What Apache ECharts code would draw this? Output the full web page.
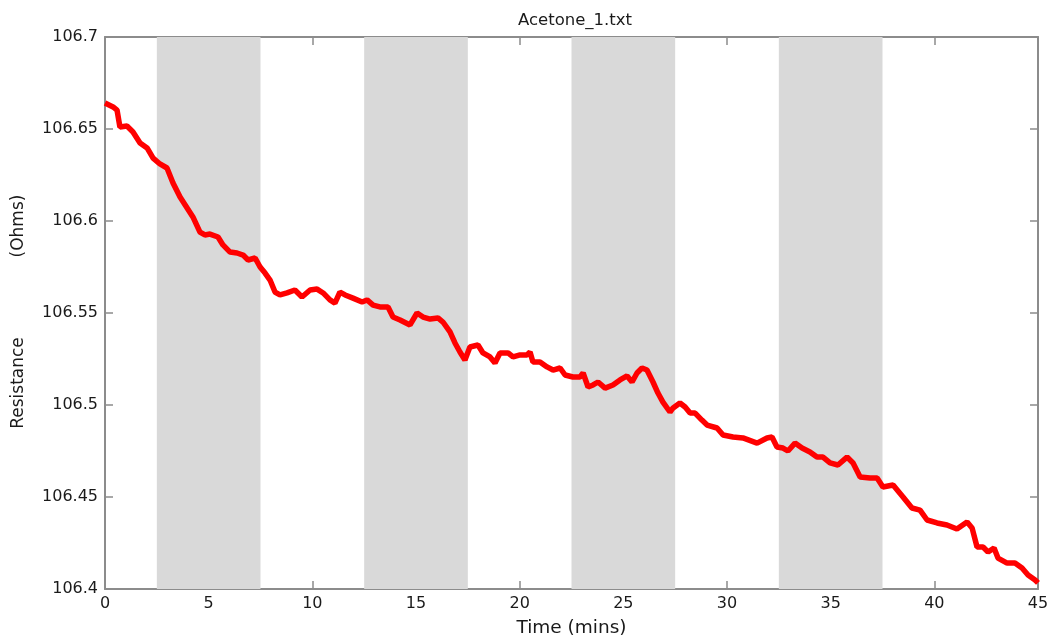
<!DOCTYPE html>
<html>
<head>
<meta charset="utf-8">
<title>Acetone_1.txt</title>
<script src="https://cdn.jsdelivr.net/npm/echarts@6/dist/echarts.min.js"></script>
<style>
  html, body { margin: 0; padding: 0; background: #fff; }
  #chart { width: 1051px; height: 637px; }
</style>
</head>
<body>
<div id="chart"></div>
<script>
// time (mins) and resistance (Ohms)
var times = [0, 0.39, 0.58, 0.72, 1.06, 1.35, 1.69, 2.03, 2.32, 2.65, 2.99, 3.28, 3.62, 3.96, 4.24,
  4.58, 4.82, 5.06, 5.45, 5.69, 6.03, 6.37, 6.66, 6.9, 7.24, 7.48, 7.72, 7.96, 8.2, 8.44,
  8.78, 9.16, 9.5, 9.89, 10.23, 10.52, 10.85, 11.09, 11.33, 11.58, 11.96, 12.4, 12.64, 12.93, 13.26,
  13.65, 13.89, 14.23, 14.71, 15.05, 15.34, 15.68, 16.06, 16.3, 16.64, 16.88, 17.12, 17.36, 17.6, 17.99,
  18.23, 18.57, 18.81, 19.05, 19.44, 19.68, 20.02, 20.35, 20.5, 20.64, 20.98, 21.32, 21.61, 21.95, 22.19,
  22.57, 22.91, 23.06, 23.3, 23.54, 23.78, 24.12, 24.5, 24.84, 25.18, 25.42, 25.66, 25.9, 26.14, 26.43,
  26.67, 26.91, 27.25, 27.4, 27.73, 27.98, 28.22, 28.46, 28.79, 29.04, 29.52, 29.81, 30.29, 30.77, 31.45,
  31.93, 32.17, 32.41, 32.7, 32.94, 33.28, 33.62, 34.0, 34.34, 34.63, 34.97, 35.35, 35.79, 36.08, 36.42,
  36.9, 37.24, 37.52, 38.01, 38.49, 38.92, 39.31, 39.65, 40.13, 40.61, 41.09, 41.58, 41.82, 42.06, 42.35,
  42.59, 42.88, 43.07, 43.51, 43.89, 44.23, 44.52, 44.86, 45];
var resistance = [106.6641, 106.662, 106.6603, 106.6511, 106.6516, 106.6484, 106.6424, 106.6397, 106.6342, 106.631, 106.6288, 106.6207, 106.613, 106.6071, 106.6022,
  106.594, 106.5924, 106.5929, 106.5913, 106.587, 106.5831, 106.5826, 106.5815, 106.5788, 106.5799, 106.575, 106.5717, 106.5679, 106.5614, 106.5598,
  106.5609, 106.5625, 106.5587, 106.5625, 106.563, 106.5609, 106.5571, 106.5554, 106.5614, 106.5598, 106.5581, 106.556, 106.5571, 106.5543, 106.5533,
  106.5533, 106.5478, 106.5462, 106.5435, 106.55, 106.5478, 106.5467, 106.5473, 106.5451, 106.5397, 106.5337, 106.5288, 106.5245, 106.5315, 106.5326,
  106.5283, 106.5261, 106.5228, 106.5283, 106.5283, 106.5261, 106.5272, 106.5272, 106.5288, 106.5234, 106.5234, 106.5207, 106.519, 106.5201, 106.5163,
  106.5152, 106.5152, 106.5174, 106.5098, 106.5109, 106.5125, 106.5092, 106.5109, 106.5136, 106.5158, 106.5125, 106.5174, 106.5201, 106.519, 106.5125,
  106.5065, 106.5016, 106.4962, 106.4984, 106.5011, 106.4989, 106.4956, 106.4956, 106.4918, 106.4891, 106.4875, 106.4837, 106.4826, 106.4821, 106.4793,
  106.4821, 106.4826, 106.4772, 106.4766, 106.475, 106.4793, 106.4766, 106.4745, 106.4717, 106.4717, 106.4685, 106.4674, 106.4717, 106.4685, 106.4609,
  106.4603, 106.4603, 106.4554, 106.4565, 106.45, 106.444, 106.4429, 106.4375, 106.4359, 106.4348, 106.4326, 106.4364, 106.4332, 106.4228, 106.4228,
  106.4201, 106.4223, 106.4168, 106.4141, 106.4141, 106.4114, 106.4076, 106.4049, 106.4033];

// grey exposure windows (start, end in mins)
var bandStarts = [2.5, 12.5, 22.5, 32.5];
var bandEnds = [7.5, 17.5, 27.5, 37.5];

var xTicks = [0, 5, 10, 15, 20, 25, 30, 35, 40, 45];

var font = 'DejaVu Sans, Verdana, sans-serif';
var axisGrey = '#8c8c8c';
var textColor = '#1a1a1a';

var chart = echarts.init(document.getElementById('chart'));

var points = times.map(function (t, i) { return [t, resistance[i]]; });
var bands = bandStarts.map(function (s, i) {
  return [{ xAxis: s }, { xAxis: bandEnds[i] }];
});

function frameAxis(extra) {
  var base = {
    type: 'value',
    axisLine: { show: true, onZero: false, lineStyle: { color: axisGrey, width: 2 } },
    axisTick: { show: true, inside: true, length: 8, lineStyle: { color: axisGrey, width: 1.5 } },
    splitLine: { show: false },
    axisLabel: { show: false }
  };
  return Object.assign(base, extra);
}

var option = {
  animation: false,
  backgroundColor: '#fff',
  title: {
    text: 'Acetone_1.txt',
    left: 570,
    top: 7,
    textAlign: 'center',
    textStyle: { fontFamily: font, fontSize: 16.5, fontWeight: 'normal', color: textColor }
  },
  grid: { left: 105, top: 37, right: 13, bottom: 48, outerBoundsMode: 'none', containLabel: false },
  xAxis: [
    frameAxis({
      min: 0, max: 45, interval: 5,
      name: 'Time (mins)',
      nameLocation: 'middle',
      nameGap: 30,
      nameTextStyle: { fontFamily: font, fontSize: 18.5, color: textColor },
      axisLabel: {
        show: true, margin: 7, color: textColor, fontFamily: font, fontSize: 16,
        customValues: xTicks
      }
    }),
    frameAxis({ position: 'top', min: 0, max: 45, interval: 5 })
  ],
  yAxis: [
    frameAxis({
      min: 106.4, max: 106.7, interval: 0.05,
      axisLabel: {
        show: true, margin: 7, color: textColor, fontFamily: font, fontSize: 16,
        formatter: function (v) { return String(parseFloat(v.toFixed(2))); }
      }
    }),
    frameAxis({ position: 'right', min: 106.4, max: 106.7, interval: 0.05 })
  ],
  graphic: [
    {
      type: 'text', x: 19, y: 383, rotation: Math.PI / 2,
      style: { text: 'Resistance', fontFamily: font, fontSize: 17, fill: textColor, align: 'center', verticalAlign: 'middle' }
    },
    {
      type: 'text', x: 19, y: 226, rotation: Math.PI / 2,
      style: { text: '(Ohms)', fontFamily: font, fontSize: 17, fill: textColor, align: 'center', verticalAlign: 'middle' }
    }
  ],
  series: [
    {
      type: 'line',
      data: points,
      showSymbol: false,
      lineStyle: { color: '#ff0000', width: 5.5 },
      z: 3,
      markArea: {
        silent: true,
        itemStyle: { color: '#d9d9d9' },
        data: bands
      }
    }
  ]
};

chart.setOption(option);
</script>
</body>
</html>
